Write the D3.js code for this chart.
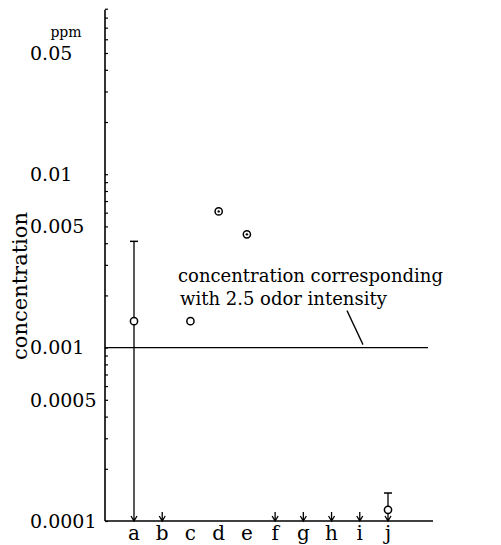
<!DOCTYPE html>
<html>
<head>
<meta charset="utf-8">
<style>
    body { margin: 0; background: #fff; }
    svg { display: block; font-family: 'DejaVu Serif', serif; }
    .tick-label { font-size: 19px; }
    .cat-label { font-size: 20px; }
    .note { font-size: 18px; }
</style>
</head>
<body>
<svg width="501" height="545"></svg>

<script src="https://d3js.org/d3.v7.min.js"></script>
<script>
    // values (ppm)
    const categories = ['a', 'b', 'c', 'd', 'e', 'f', 'g', 'h', 'i', 'j'];
    const meanValues = [0.00142, null, 0.00142, 0.0061, 0.0045, null, null, null, null, 0.000116];
    const upperValues = [0.0041, null, null, null, null, null, null, null, null, 0.000145];
    const lowerValues = [0.0001, null, null, null, null, null, null, null, null, 0.0001];
    const notDetected = ['b', 'f', 'g', 'h', 'i'];
    const dottedMarks = ['d', 'e'];
    const threshold = 0.001;
    const detectionLimit = 0.0001;
    const yTickValues = [0.0001, 0.0005, 0.001, 0.005, 0.01, 0.05];
    const yTickLabels = ['0.0001', '0.0005', '0.001', '0.005', '0.01', '0.05'];
    const yAxisTop = 0.09;

    let svg = d3.select("svg")

    let y = d3.scaleLog()
        .domain([detectionLimit, 0.05])
        .range([521, 53])

    let x = d3.scalePoint()
        .domain(categories)
        .range([134, 388])

    let axisX = 105
    let axisRight = 433

    // y axis with small inward minor ticks
    let yMinor = d3.scaleLog().domain([detectionLimit, yAxisTop]).range([y(detectionLimit), y(yAxisTop)])
    let yAxis = svg.append("g")
        .attr("transform", "translate(" + axisX + ",0)")
        .call(d3.axisRight(yMinor).tickSize(3).tickFormat(""))
    yAxis.select(".domain").attr("d", "M0," + y(detectionLimit) + "V" + (y(yAxisTop) + 1))
        .style("stroke-width", 1.6)
    yAxis.selectAll(".tick line").style("stroke-width", 1.2)

    svg.selectAll(".tick-label")
        .data(yTickValues)
        .join("text")
        .attr("class", "tick-label")
        .attr("x", 30)
        .attr("y", d => y(d))
        .attr("dy", "0.36em")
        .text((d, i) => yTickLabels[i])

    svg.append("text")
        .attr("x", 66)
        .attr("y", 37)
        .attr("text-anchor", "middle")
        .style("font-size", "14px")
        .text("ppm")

    svg.append("text")
        .attr("transform", "translate(27,286) rotate(-90)")
        .attr("text-anchor", "middle")
        .style("font-size", "21px")
        .text("concentration")

    // x axis
    svg.append("line")
        .attr("x1", axisX).attr("x2", axisRight)
        .attr("y1", y(detectionLimit)).attr("y2", y(detectionLimit))
        .style("stroke", "#000")
        .style("stroke-width", 1.6)

    svg.selectAll(".cat-label")
        .data(categories)
        .join("text")
        .attr("class", "cat-label")
        .attr("x", d => x(d))
        .attr("y", 540)
        .attr("text-anchor", "middle")
        .text(d => d)

    // threshold line
    svg.append("line")
        .attr("x1", axisX).attr("x2", 428)
        .attr("y1", y(threshold)).attr("y2", y(threshold))
        .style("stroke", "#000")
        .style("stroke-width", 1.4)

    function arrowDown(g, cx, top, bottom) {
        g.append("path")
            .attr("d", "M" + cx + "," + top + "V" + bottom +
                "M" + (cx - 3) + "," + (bottom - 5) + "L" + cx + "," + bottom + "L" + (cx + 3) + "," + (bottom - 5))
            .style("fill", "none")
            .style("stroke", "#000")
            .style("stroke-width", 1.3)
    }

    let marks = svg.append("g")

    // not detected: arrows down to the limit
    notDetected.forEach(c => {
        arrowDown(marks, x(c), y(detectionLimit) - 9, y(detectionLimit))
    })

    // error bars
    categories.forEach((c, i) => {
        if (upperValues[i] == null) return
        let top = y(upperValues[i])
        marks.append("line")
            .attr("x1", x(c) - 4).attr("x2", x(c) + 4)
            .attr("y1", top).attr("y2", top)
            .style("stroke", "#000")
            .style("stroke-width", 1.5)
        arrowDown(marks, x(c), top, y(lowerValues[i]))
    })

    // points
    let pts = categories.map((c, i) => ({ cat: c, v: meanValues[i] })).filter(d => d.v != null)

    marks.selectAll(".pt")
        .data(pts)
        .join("circle")
        .attr("class", "pt")
        .attr("cx", d => x(d.cat))
        .attr("cy", d => y(d.v))
        .attr("r", 3.6)
        .style("fill", "#fff")
        .style("stroke", "#000")
        .style("stroke-width", 1.5)

    marks.selectAll(".pt-dot")
        .data(pts.filter(d => dottedMarks.includes(d.cat)))
        .join("circle")
        .attr("class", "pt-dot")
        .attr("cx", d => x(d.cat))
        .attr("cy", d => y(d.v))
        .attr("r", 1.2)
        .style("fill", "#000")

    // annotation
    svg.append("text").attr("class", "note")
        .attr("x", 178).attr("y", 282)
        .text("concentration corresponding")
    svg.append("text").attr("class", "note")
        .attr("x", 180).attr("y", 305)
        .text("with 2.5 odor intensity")

    svg.append("line")
        .attr("x1", 347).attr("y1", y(threshold) - 37)
        .attr("x2", 363).attr("y2", y(threshold) - 3)
        .style("stroke", "#000")
        .style("stroke-width", 1.3)
</script>
</body>
</html>
